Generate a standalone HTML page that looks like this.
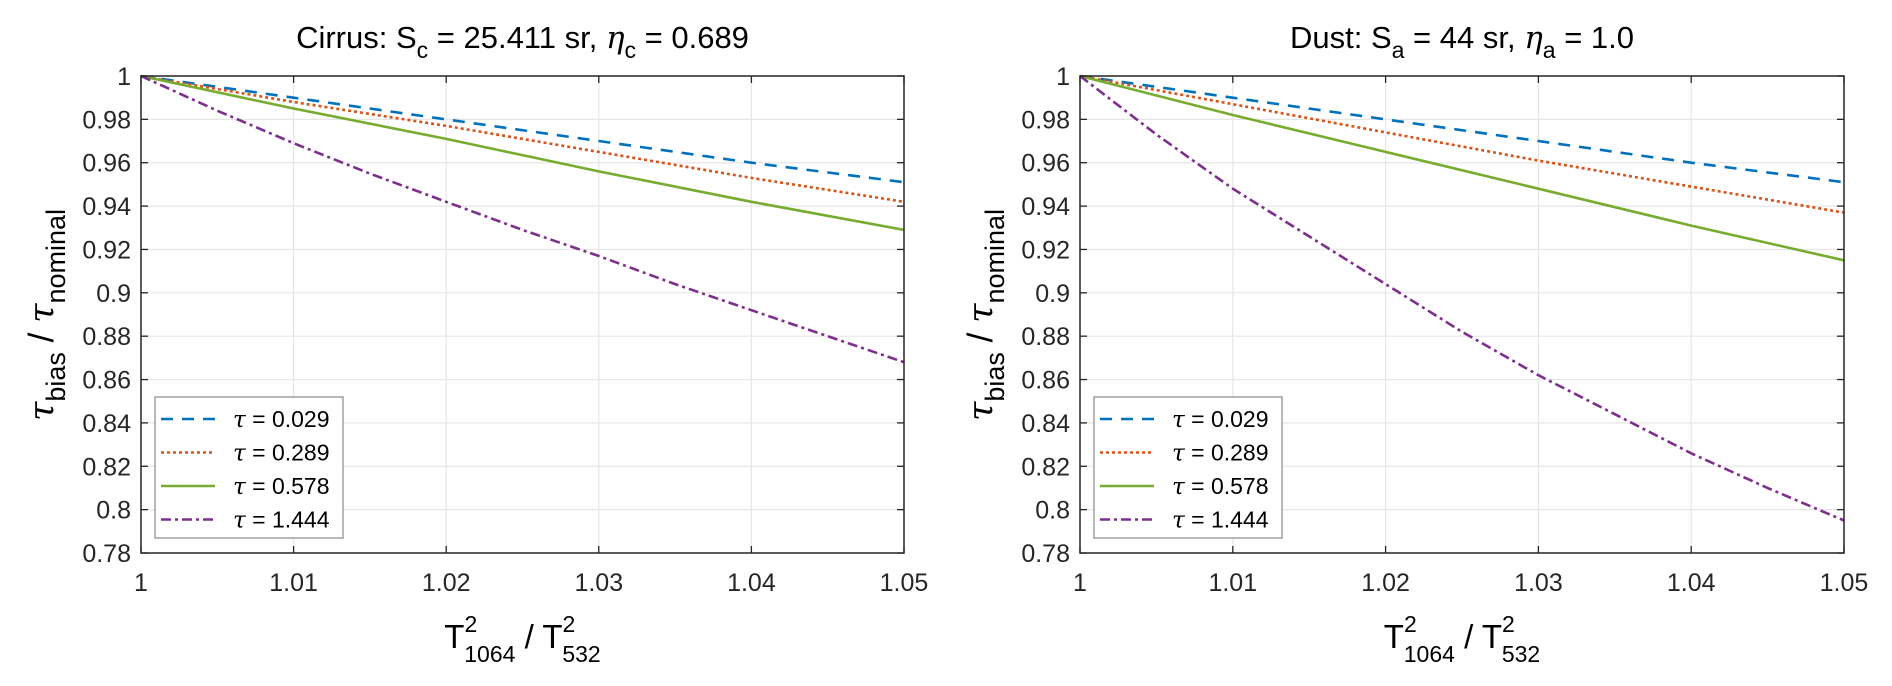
<!DOCTYPE html>
<html><head><meta charset="utf-8"><style>
body{margin:0;background:#fff;}
svg{display:block;font-family:"Liberation Sans",sans-serif;}
</style></head><body>
<svg id="fig" width="1892" height="686" viewBox="0 0 1892 686" xmlns="http://www.w3.org/2000/svg"></svg>
<script>
const xVals = [1, 1.01, 1.02, 1.03, 1.04, 1.05];
const xTicks = [1, 1.01, 1.02, 1.03, 1.04, 1.05];
const xTickLabels = ['1','1.01','1.02','1.03','1.04','1.05'];
const yTicks = [0.78,0.8,0.82,0.84,0.86,0.88,0.9,0.92,0.94,0.96,0.98,1];
const yTickLabels = ['0.78','0.8','0.82','0.84','0.86','0.88','0.9','0.92','0.94','0.96','0.98','1'];
const legendLabels = ['0.029','0.289','0.578','1.444'];
const cirrusBlue = [1, 0.990, 0.980, 0.970, 0.960, 0.951];
const cirrusRed = [1, 0.988, 0.977, 0.965, 0.953, 0.942];
const cirrusGreen = [1, 0.985, 0.971, 0.956, 0.942, 0.929];
const cirrusPurpleX = [1,1.005,1.01,1.015,1.02,1.025,1.03,1.035,1.04,1.045,1.05];
const cirrusPurple = [1,0.984,0.969,0.955,0.942,0.929,0.917,0.904,0.892,0.880,0.868];
const dustBlue = [1, 0.990, 0.980, 0.970, 0.960, 0.951];
const dustRed = [1, 0.987, 0.974, 0.961, 0.949, 0.937];
const dustGreen = [1, 0.982, 0.965, 0.948, 0.931, 0.915];
const dustPurpleX = [1,1.005,1.01,1.015,1.02,1.025,1.03,1.035,1.04,1.045,1.05];
const dustPurple = [1,0.973,0.948,0.926,0.904,0.882,0.862,0.844,0.826,0.810,0.795];

const NS='http://www.w3.org/2000/svg';
const svg=document.getElementById('fig');
function mk(tag,attrs,parent){const e=document.createElementNS(NS,tag);for(const k in attrs)e.setAttribute(k,attrs[k]);(parent||svg).appendChild(e);return e;}

const styles=[
 {c:'#0072BD',d:'12 9'},
 {c:'#D95319',d:'3 3'},
 {c:'#77AC30',d:''},
 {c:'#7E2F8E',d:'10 4 3 4'}
];

function panel(name,x0,x1,series,titleParts){
  const y0=76,y1=553;
  const g=mk('g',{});
  
  
  const sx=v=>x0+(v-1)/0.05*(x1-x0);
  const sy=v=>y1-(v-0.78)/0.22*(y1-y0);
  xTicks.forEach(t=>{const l=mk('line',{x1:sx(t),x2:sx(t),y1:y0,y2:y1,stroke:'#e6e6e6','stroke-width':1.2},g);
    });
  yTicks.forEach(t=>{const l=mk('line',{x1:x0,x2:x1,y1:sy(t),y2:sy(t),stroke:'#e6e6e6','stroke-width':1.2},g);
    });
  series.forEach((s,i)=>{
    const xs=s.x||xVals;
    const pts=s.y.map((v,j)=>sx(xs[j]).toFixed(1)+','+sy(v).toFixed(1)).join(' ');
    const p=mk('polyline',{points:pts,fill:'none',stroke:styles[i].c,'stroke-width':2.6,'stroke-dasharray':styles[i].d,'stroke-linejoin':'round'},g);
    
    
  });
  const box=mk('rect',{x:x0,y:y0,width:x1-x0,height:y1-y0,fill:'none',stroke:'#262626','stroke-width':1.5},g);
  
  xTicks.forEach((t,i)=>{
    mk('line',{x1:sx(t),x2:sx(t),y1:y1,y2:y1-7,stroke:'#262626','stroke-width':1.3},g);
    mk('line',{x1:sx(t),x2:sx(t),y1:y0,y2:y0+7,stroke:'#262626','stroke-width':1.3},g);
    const tx=mk('text',{x:sx(t),y:591,'text-anchor':'middle','font-size':25,fill:'#262626'},g);
    tx.textContent=xTickLabels[i];
    
  });
  yTicks.forEach((t,i)=>{
    mk('line',{x1:x0,x2:x0+7,y1:sy(t),y2:sy(t),stroke:'#262626','stroke-width':1.3},g);
    mk('line',{x1:x1,x2:x1-7,y1:sy(t),y2:sy(t),stroke:'#262626','stroke-width':1.3},g);
    const tx=mk('text',{x:x0-10,y:sy(t)+9,'text-anchor':'end','font-size':25,fill:'#262626'},g);
    tx.textContent=yTickLabels[i];
    
  });
  const tt=mk('text',{x:(x0+x1)/2,y:48,'text-anchor':'middle','font-size':31,fill:'#000'},g);
  tt.innerHTML=titleParts;
  
  const xl=mk('text',{x:(x0+x1)/2,y:648,'text-anchor':'middle','font-size':33,fill:'#000'},g);
  xl.innerHTML='T<tspan dy="-16" font-size="23">2</tspan><tspan dy="30" dx="-13" font-size="23">1064</tspan><tspan dy="-14"> / T</tspan><tspan dy="-16" font-size="23">2</tspan><tspan dy="30" dx="-13" font-size="23">532</tspan>';
  
  const yl=mk('text',{transform:'translate('+(x0-88)+',315) rotate(-90)','text-anchor':'middle','font-size':35,fill:'#000'},g);
  yl.innerHTML='<tspan font-family="DejaVu Serif" font-style="italic">τ</tspan><tspan dy="12" font-size="27">bias</tspan><tspan dy="-12"> / </tspan><tspan font-family="DejaVu Serif" font-style="italic">τ</tspan><tspan dy="12" font-size="27">nominal</tspan>';
  
  const lx=x0+14, ly=397;
  const lg=mk('g',{},g);
  
  mk('rect',{x:lx,y:ly,width:188,height:141,fill:'#fff',stroke:'#a0a0a0','stroke-width':1.5},lg);
  legendLabels.forEach((lab,i)=>{
    const yy=ly+22+i*33.5;
    const ll=mk('line',{x1:lx+6,x2:lx+60,y1:yy,y2:yy,stroke:styles[i].c,'stroke-width':2.6,'stroke-dasharray':styles[i].d},lg);
    
    const t=mk('text',{x:lx+78,y:yy+8,'font-size':23,fill:'#000'},lg);
    t.innerHTML='<tspan font-family="DejaVu Serif" font-style="italic">τ</tspan> = '+lab;
    
  });
}

panel('cirrus',141,904,[{y:cirrusBlue},{y:cirrusRed},{y:cirrusGreen},{x:cirrusPurpleX,y:cirrusPurple}],
 'Cirrus: S<tspan dy="10" font-size="23">c</tspan><tspan dy="-10"> = 25.411 sr, </tspan><tspan font-family="DejaVu Serif" font-style="italic">η</tspan><tspan dy="10" font-size="23">c</tspan><tspan dy="-10"> = 0.689</tspan>');
panel('dust',1080,1844,[{y:dustBlue},{y:dustRed},{y:dustGreen},{x:dustPurpleX,y:dustPurple}],
 'Dust: S<tspan dy="10" font-size="23">a</tspan><tspan dy="-10"> = 44 sr, </tspan><tspan font-family="DejaVu Serif" font-style="italic">η</tspan><tspan dy="10" font-size="23">a</tspan><tspan dy="-10"> = 1.0</tspan>');
</script>
</body></html>
